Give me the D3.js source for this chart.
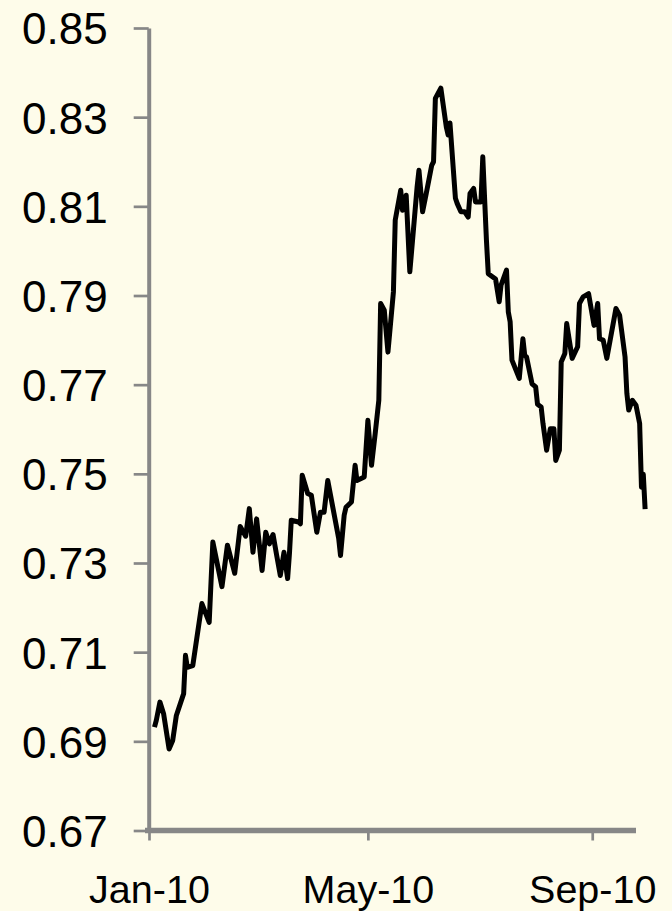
<!DOCTYPE html>
<html>
<head>
<meta charset="utf-8">
<script src="https://cdn.jsdelivr.net/npm/d3@7/dist/d3.min.js"></script>
<style>
  html, body { margin: 0; padding: 0; background: #FEFCEA; }
  svg { display: block; }
  text { font-family: "Liberation Sans", Arial, sans-serif; fill: #000; }
</style>
</head>
<body>
<svg id="chart" width="672" height="911"></svg>
<script>
// ---- data ----
const dates = [
  "2010-01-04","2010-01-05","2010-01-07","2010-01-09","2010-01-12","2010-01-14","2010-01-16","2010-01-20",
  "2010-01-21","2010-01-22","2010-01-25","2010-01-30","2010-02-03","2010-02-05","2010-02-10","2010-02-13",
  "2010-02-17","2010-02-20","2010-02-23","2010-02-25","2010-02-27","2010-03-01","2010-03-04","2010-03-06",
  "2010-03-08","2010-03-10","2010-03-12","2010-03-14","2010-03-16","2010-03-18","2010-03-19","2010-03-20",
  "2010-03-24","2010-03-25","2010-03-26","2010-03-29","2010-03-31","2010-04-03","2010-04-05","2010-04-07",
  "2010-04-09","2010-04-15","2010-04-16","2010-04-18","2010-04-19","2010-04-22","2010-04-24","2010-04-25",
  "2010-04-29","2010-05-01","2010-05-03","2010-05-05","2010-05-07","2010-05-08","2010-05-10","2010-05-12",
  "2010-05-15","2010-05-16","2010-05-19","2010-05-20","2010-05-22","2010-05-24","2010-05-28","2010-05-29",
  "2010-05-31","2010-06-02","2010-06-05","2010-06-06","2010-06-07","2010-06-10","2010-06-13","2010-06-14",
  "2010-06-15","2010-06-18","2010-06-19","2010-06-21","2010-06-23","2010-06-25","2010-06-26","2010-06-28",
  "2010-06-29","2010-07-02","2010-07-03","2010-07-05","2010-07-06","2010-07-10","2010-07-12","2010-07-13",
  "2010-07-16","2010-07-17","2010-07-18","2010-07-19","2010-07-23","2010-07-25","2010-07-26","2010-07-27",
  "2010-07-30","2010-08-01","2010-08-02","2010-08-04","2010-08-05","2010-08-07","2010-08-09","2010-08-11",
  "2010-08-12","2010-08-14","2010-08-15","2010-08-17","2010-08-18","2010-08-21","2010-08-24","2010-08-25",
  "2010-08-27","2010-08-30","2010-09-02","2010-09-04","2010-09-05","2010-09-07","2010-09-09","2010-09-14",
  "2010-09-16","2010-09-19","2010-09-20","2010-09-21","2010-09-23","2010-09-25","2010-09-27","2010-09-28",
  "2010-09-29","2010-09-30"
];
const values = [
  0.6932,0.6947,0.6988,0.6962,0.6883,0.6902,0.6958,0.7007,
  0.7093,0.7066,0.7070,0.7209,0.7167,0.7347,0.7247,0.7340,
  0.7277,0.7382,0.7360,0.7422,0.7324,0.7399,0.7283,0.7369,
  0.7343,0.7364,0.7317,0.7272,0.7324,0.7265,0.7321,0.7396,
  0.7392,0.7388,0.7497,0.7456,0.7452,0.7369,0.7414,0.7414,
  0.7485,0.7355,0.7317,0.7407,0.7425,0.7437,0.7519,0.7485,
  0.7493,0.7620,0.7519,0.7590,0.7665,0.7882,0.7867,0.7773,
  0.7908,0.8069,0.8136,0.8091,0.8125,0.7953,0.8144,0.8181,
  0.8088,0.8129,0.8192,0.8200,0.8342,0.8365,0.8278,0.8260,
  0.8287,0.8118,0.8106,0.8088,0.8088,0.8076,0.8129,0.8140,
  0.8110,0.8110,0.8211,0.8024,0.7949,0.7937,0.7886,0.7923,
  0.7957,0.7863,0.7841,0.7755,0.7714,0.7803,0.7766,0.7762,
  0.7702,0.7695,0.7656,0.7650,0.7613,0.7553,0.7601,0.7601,
  0.7530,0.7553,0.7751,0.7770,0.7837,0.7759,0.7785,0.7882,
  0.7897,0.7904,0.7833,0.7882,0.7803,0.7800,0.7759,0.7871,
  0.7856,0.7762,0.7680,0.7643,0.7665,0.7654,0.7613,0.7470,
  0.7499,0.7421
];
const yTicks = [0.67, 0.69, 0.71, 0.73, 0.75, 0.77, 0.79, 0.81, 0.83, 0.85];
const xTickDates = ["2010-01-01", "2010-05-01", "2010-09-01"];
const xDomain = ["2010-01-01", "2010-09-25"];
const yDomain = [0.67, 0.85];

// ---- drawing ----
const parse = d3.utcParse("%Y-%m-%d");
const data = dates.map((d, i) => ({ date: parse(d), value: values[i] }));

const svg = d3.select("#chart");
const axisColor = "#878787";

const x = d3.scaleUtc().domain(xDomain.map(parse)).range([149, 636]);
const y = d3.scaleLinear().domain(yDomain).range([830.5, 28]);

// Y axis
const yAxis = d3.axisLeft(y)
  .tickValues(yTicks)
  .tickSize(15)
  .tickSizeOuter(0)
  .tickPadding(26)
  .tickFormat(d3.format(".2f"));
const gy = svg.append("g").attr("transform", "translate(148.7,0)").call(yAxis);
gy.select(".domain").attr("stroke", axisColor).attr("stroke-width", 4);
gy.selectAll(".tick line").attr("stroke", axisColor).attr("stroke-width", 2.7);
gy.selectAll(".tick text")
  .attr("font-size", 44)
  .attr("dy", "0.36em")
  .attr("fill", "#000")
  .style("font-family", '"Liberation Sans", Arial, sans-serif');

// X axis
const xAxis = d3.axisBottom(x)
  .tickValues(xTickDates.map(parse))
  .tickSize(10)
  .tickSizeOuter(0)
  .tickPadding(0)
  .tickFormat(d3.utcFormat("%b-%y"));
const gx = svg.append("g").attr("transform", "translate(0,830.5)").call(xAxis);
gx.select(".domain")
  .attr("stroke", axisColor)
  .attr("stroke-width", 5.5)
  .attr("d", `M${x.range()[0] - 4},0H${x.range()[1]}`);
gx.selectAll(".tick line").attr("stroke", axisColor).attr("stroke-width", 2.7);
gx.selectAll(".tick text")
  .attr("font-size", 39.5)
  .attr("y", 72.5)
  .attr("dy", 0)
  .attr("fill", "#000")
  .style("font-family", '"Liberation Sans", Arial, sans-serif');

// Line
const line = d3.line().x(d => x(d.date)).y(d => y(d.value));
svg.append("path")
  .datum(data)
  .attr("fill", "none")
  .attr("stroke", "#000")
  .attr("stroke-width", 5)
  .attr("stroke-linejoin", "round")
  .attr("stroke-linecap", "butt")
  .attr("d", line);
</script>
</body>
</html>
